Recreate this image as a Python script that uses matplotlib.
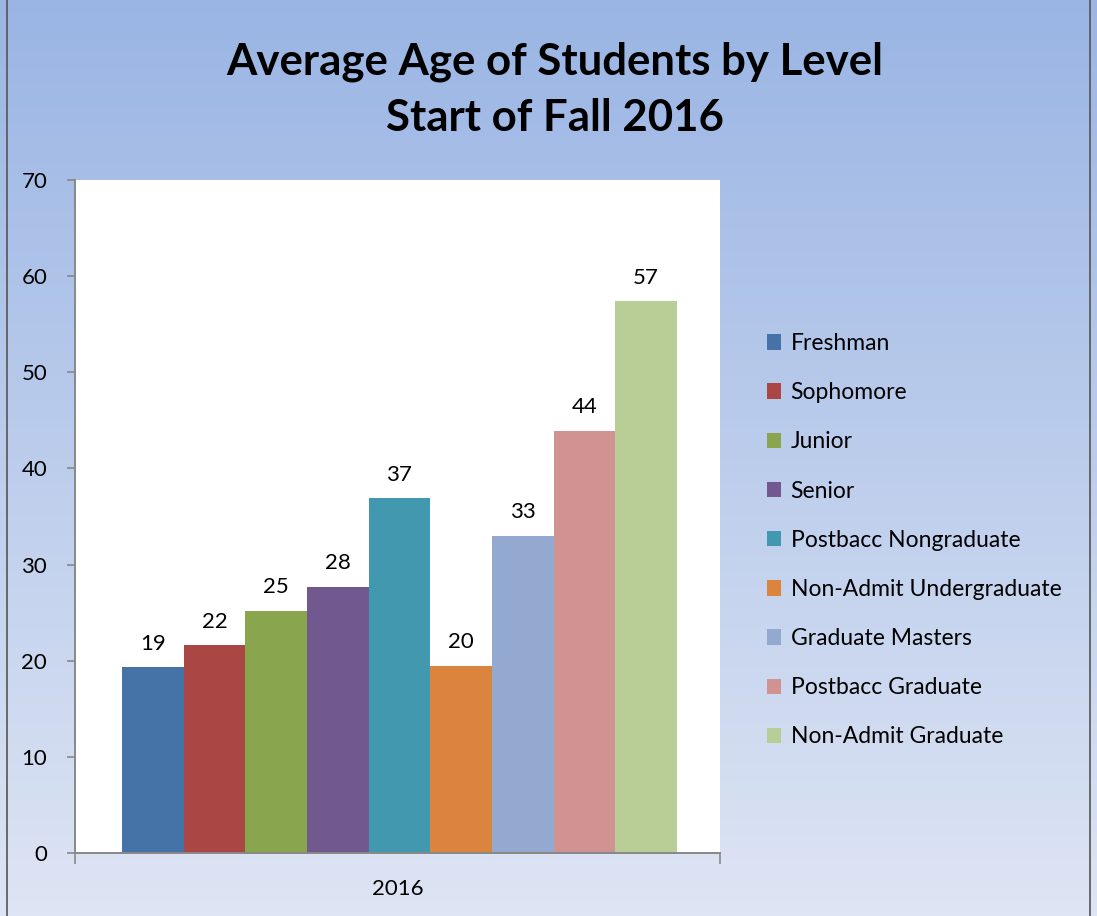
import matplotlib.pyplot as plt
import matplotlib.patches as mpatches
import numpy as np

# data
levels = ["Freshman", "Sophomore", "Junior", "Senior", "Postbacc Nongraduate",
          "Non-Admit Undergraduate", "Graduate Masters", "Postbacc Graduate",
          "Non-Admit Graduate"]
ages = [19.3, 21.6, 25.2, 27.7, 36.9, 19.5, 33.0, 43.9, 57.4]
age_labels = ["19", "22", "25", "28", "37", "20", "33", "44", "57"]
colors = ["#4572A7", "#AA4643", "#89A54E", "#71588F", "#4198AF",
          "#DB843D", "#93A9CF", "#D19392", "#B9CD96"]
year = "2016"

plt.rcParams['font.family'] = ['Lato', 'DejaVu Sans']

fig = plt.figure(figsize=(10.97, 9.16), dpi=100)

# gradient background
bg = fig.add_axes([0, 0, 1, 1], zorder=-10)
top = np.array([154, 181, 228]) / 255
bottom = np.array([222, 229, 244]) / 255
t = np.linspace(0, 1, 256)[:, None]
grad = (top * (1 - t) + bottom * t)[:, None, :]
bg.imshow(grad, aspect='auto', extent=[0, 1, 0, 1])
bg.set_xlim(0, 1)
bg.set_ylim(0, 1)
bg.axis('off')
bg.add_patch(mpatches.Rectangle((7 / 1097, -0.01), (1090 - 7) / 1097, 1.02,
                                fill=False, edgecolor='#555555', lw=1.2))

ax = fig.add_axes([75 / 1097, 63 / 916, 645 / 1097, 673 / 916])
ax.set_facecolor('white')

n = len(levels)
w = 0.86 / n
x = -0.43 + w * (np.arange(n) + 0.5) + 0.003
for i in range(n):
    ax.bar(x[i], ages[i], w, color=colors[i], label=levels[i], zorder=2)
    ax.text(x[i], ages[i] + 1.4, age_labels[i], ha='center', va='bottom',
            fontsize=16, color='black')

ax.set_xlim(-0.5, 0.5)
ax.set_ylim(0, 70)
ax.set_yticks(range(0, 71, 10))
ax.set_xticks([-0.5, 0.5])
ax.set_xticklabels([])
ax.tick_params(axis='y', direction='out', length=6, width=1.2, color='#888888',
               labelsize=16, pad=14)
ax.tick_params(axis='x', direction='out', length=8, width=1.2, color='#888888')
ax.text(0, -2.7, year, ha='center', va='top', fontsize=16)
for s in ['top', 'right']:
    ax.spines[s].set_visible(False)
for s in ['left', 'bottom']:
    ax.spines[s].set_color('#888888')
    ax.spines[s].set_linewidth(1.4)

fig.text(0.506, 0.933, "Average Age of Students by Level", ha='center', va='center',
         fontsize=31.5, fontweight='bold')
fig.text(0.506, 0.871, "Start of Fall 2016", ha='center', va='center',
         fontsize=31.5, fontweight='bold')

leg = fig.legend(loc='upper left', bbox_to_anchor=(0.680, 0.659), frameon=False,
                 fontsize=16.5, handlelength=0.65, handleheight=0.65,
                 handletextpad=0.4, labelspacing=1.23)

fig.savefig("out.png", dpi=100)
